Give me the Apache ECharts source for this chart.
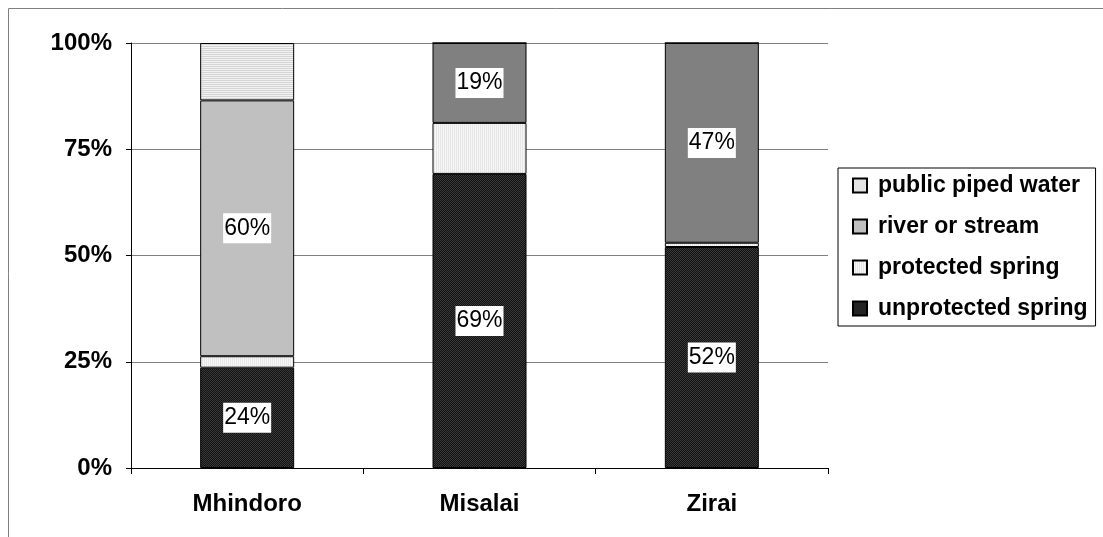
<!DOCTYPE html>
<html><head><meta charset="utf-8">
<script src="https://cdn.jsdelivr.net/npm/echarts@6/dist/echarts.min.js"></script>
<style>html,body{margin:0;padding:0;background:#fff}#c{width:1103px;height:537px}</style>
</head><body><div id="c"></div>
<script>
const categories = ['Mhindoro', 'Misalai', 'Zirai'];
const unprotectedSpring = [23.6, 69.2, 52.0];
const protectedSpring = [2.7, 12.0, 1.0];
const riverOrStream = [60.2, 18.8, 47.0];
const publicPipedWater = [13.5, 0.0, 0.0];
const yTicks = [0, 25, 50, 75, 100];

function pattern(w, h, draw) {
  const c = document.createElement('canvas'); c.width = w; c.height = h;
  const g = c.getContext('2d'); draw(g); return { image: c, repeat: 'repeat' };
}
const pipedPat = pattern(2, 2, g => { g.fillStyle = '#f2f2f2'; g.fillRect(0,0,2,2); g.fillStyle = '#d4d4d4'; g.fillRect(0,0,2,1); });
const protPat = pattern(2, 2, g => { g.fillStyle = '#f6f6f6'; g.fillRect(0,0,2,2); g.fillStyle = '#e6e6e6'; g.fillRect(0,0,1,2); });
const unprotPat = pattern(2, 2, g => { g.fillStyle = '#111'; g.fillRect(0,0,2,2); g.fillStyle = '#3a3a3a'; g.fillRect(0,0,1,1); g.fillRect(1,1,1,1); });

const font = 'Arial, "Liberation Sans", sans-serif';
const labelStyle = {
  show: true, position: 'inside', color: '#000', fontFamily: font, fontSize: 23,
  backgroundColor: '#fff', padding: [4, 1, 3, 1],
  formatter: p => p.value > 0 ? Math.round(p.value) + '%' : ''
};
const itemBase = { borderColor: '#000', borderWidth: 1 };

const riverData = riverOrStream.map((v, i) => i === 0 ? v : { value: v, itemStyle: { color: '#808080' } });

const chart = echarts.init(document.getElementById('c'), null, { renderer: 'canvas' });
chart.setOption({
  animation: false,
  backgroundColor: '#fff',
  graphic: [{ type: 'rect', shape: { x: 8.5, y: 8.5, width: 1200, height: 700 }, style: { fill: 'none', stroke: '#808080', lineWidth: 1 }, z: -10 }],
  grid: { left: 131, top: 43, right: 275, bottom: 69, containLabel: false },
  legend: {
    orient: 'vertical', left: 838, top: 168,
    data: ['public piped water', 'river or stream', 'protected spring', 'unprotected spring'],
    borderColor: '#000', borderWidth: 1, padding: [6, 8, 6, 14],
    itemWidth: 14, itemHeight: 14, itemGap: 18,
    textStyle: { fontFamily: font, fontSize: 23, lineHeight: 23, fontWeight: 'bold', color: '#000', padding: [0, 0, 0, 6] },
    icon: 'rect'
  },
  xAxis: {
    type: 'category', data: categories,
    axisLine: { lineStyle: { color: '#000', width: 1 } },
    axisTick: { show: true, length: 6, interval: 0, lineStyle: { color: '#000' } },
    axisLabel: { fontFamily: font, fontSize: 24, fontWeight: 'bold', color: '#000', margin: 24 }
  },
  yAxis: {
    type: 'value', min: 0, max: 100, interval: 25,
    axisLine: { show: true, lineStyle: { color: '#000' } },
    axisTick: { show: true, inside: false, length: 5, lineStyle: { color: '#000' } },
    axisLabel: { fontFamily: font, fontSize: 24, fontWeight: 'bold', color: '#000', margin: 19,
      formatter: v => yTicks.includes(v) ? v + '%' : '' },
    splitLine: { show: true, lineStyle: { color: '#808080', width: 1 } }
  },
  series: [
    { name: 'unprotected spring', type: 'bar', stack: 's', barWidth: 94, data: unprotectedSpring,
      itemStyle: Object.assign({ color: unprotPat }, itemBase), label: labelStyle },
    { name: 'protected spring', type: 'bar', stack: 's', data: protectedSpring,
      itemStyle: Object.assign({ color: protPat }, itemBase) },
    { name: 'river or stream', type: 'bar', stack: 's', data: riverData,
      itemStyle: Object.assign({ color: '#c0c0c0' }, itemBase), label: labelStyle },
    { name: 'public piped water', type: 'bar', stack: 's', data: publicPipedWater,
      itemStyle: Object.assign({ color: pipedPat }, itemBase) }
  ]
});
</script></body></html>
